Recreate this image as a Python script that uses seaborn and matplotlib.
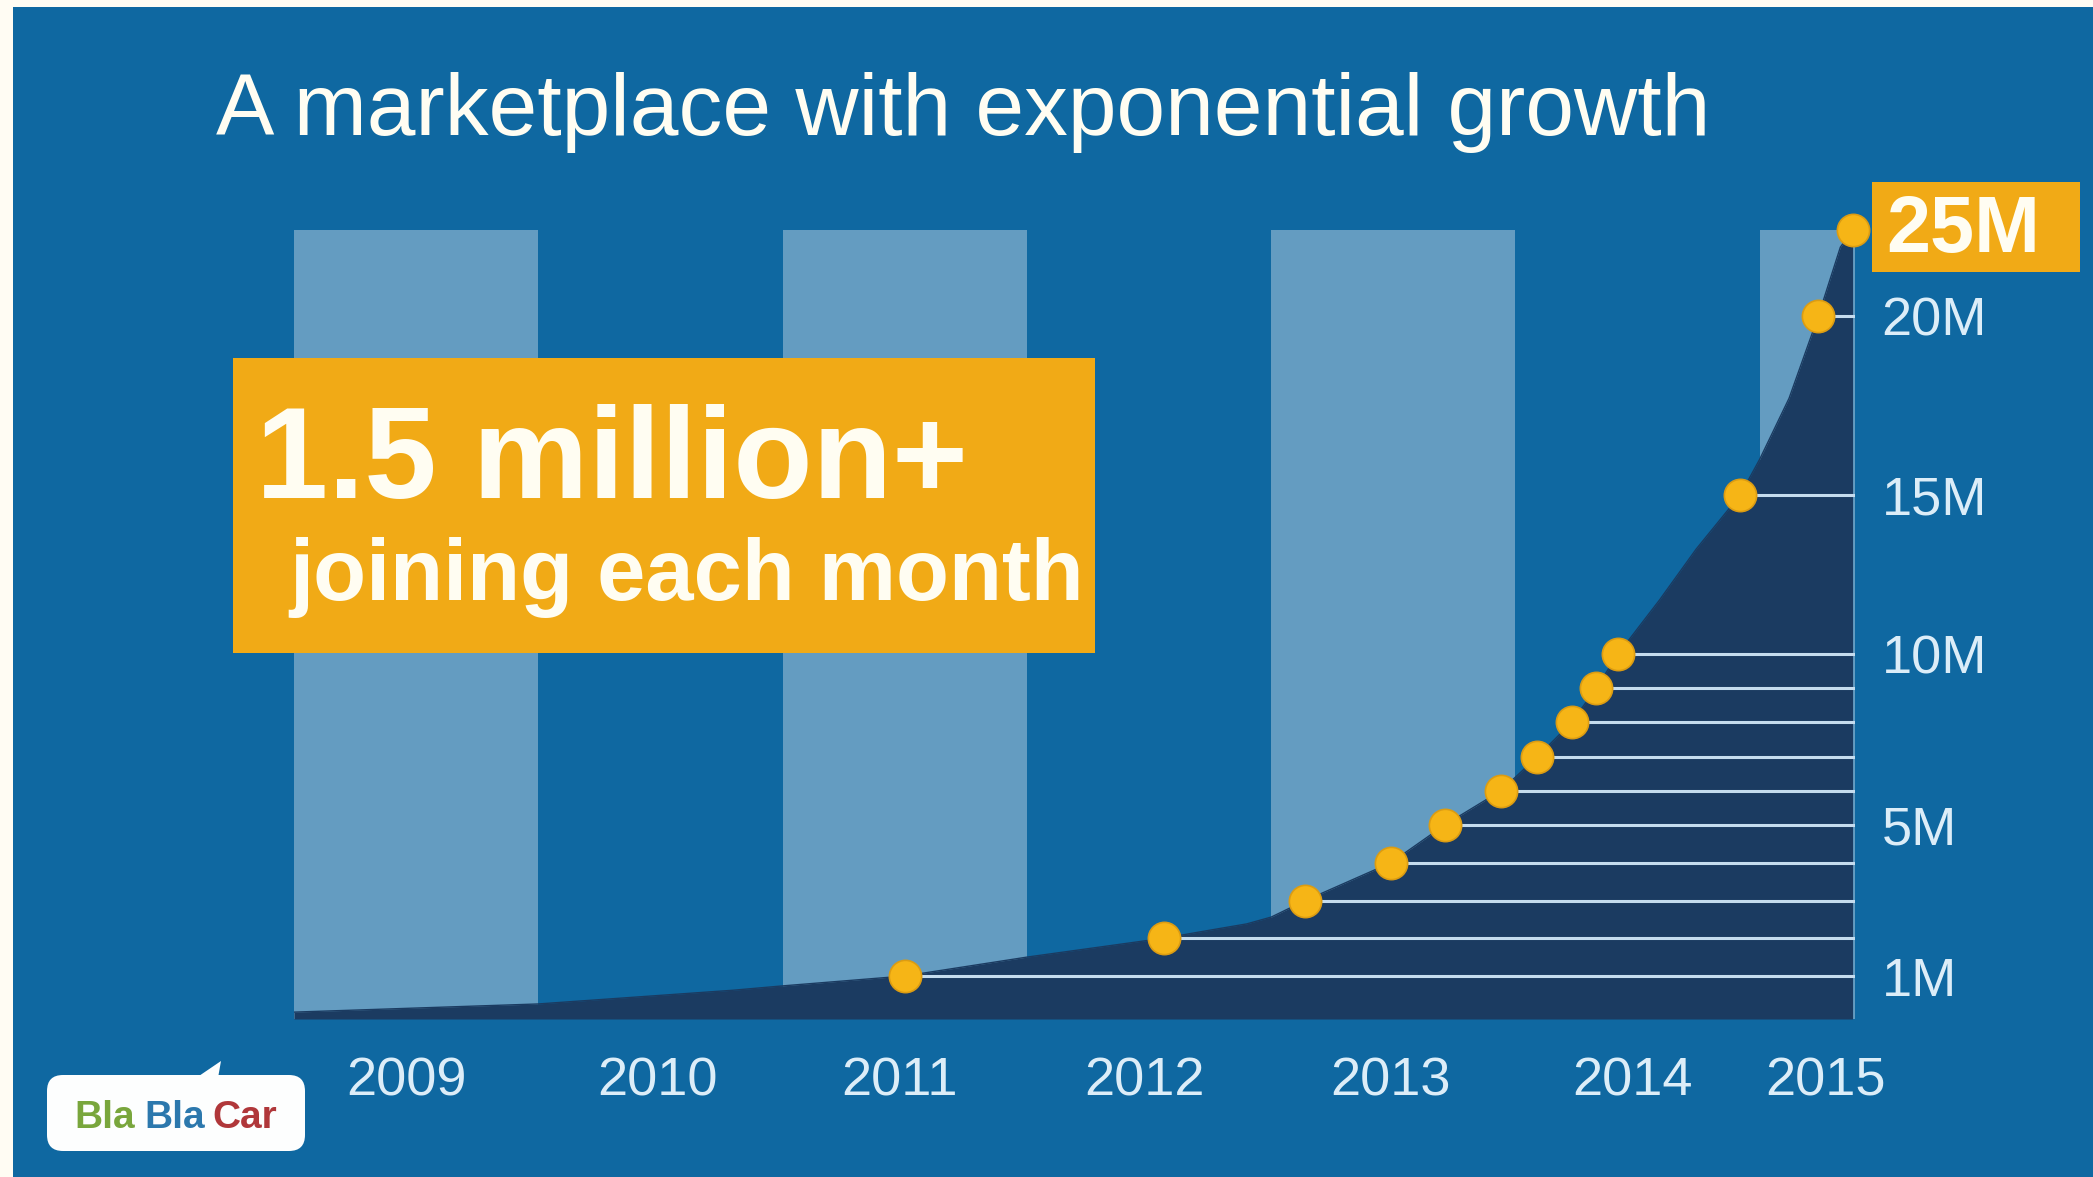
import numpy as np
import matplotlib
matplotlib.use("Agg")
import matplotlib.pyplot as plt
import seaborn as sns
from matplotlib.patches import Rectangle, FancyBboxPatch, Polygon

# ---------------- data ----------------
curve_years = [2009.0, 2010.0, 2010.8, 2011.0, 2011.5, 2012.0, 2012.56, 2012.71, 2012.9, 2013.0,
               2013.14, 2013.49, 2013.71, 2013.94, 2014.09, 2014.23, 2014.33, 2014.42,
               2014.59, 2014.74, 2014.92, 2015.0, 2015.12, 2015.24, 2015.33, 2015.38]
curve_users = [0.16, 0.35, 0.67, 0.77, 1.0, 1.5, 2.0, 2.17, 2.38, 2.56,
               3.0, 4.0, 5.0, 6.0, 7.0, 8.0, 9.0, 10.0,
               11.7, 13.3, 15.0, 16.0, 17.7, 20.0, 24.0, 25.0]

dot_years = [2011.50, 2012.56, 2013.14, 2013.49, 2013.71, 2013.94, 2014.09,
             2014.23, 2014.33, 2014.42, 2014.92, 2015.24, 2015.38]
dot_users = [1, 2, 3, 4, 5, 6, 7, 8, 9, 10, 15, 20, 25]

band_years = [2009, 2011, 2013, 2015]
year_labels = ["2009", "2010", "2011", "2012", "2013", "2014", "2015"]
year_tick_pos = [2009.46, 2010.49, 2011.48, 2012.48, 2013.49, 2014.48, 2015.27]
user_ticks = [1, 5, 10, 15, 20]
user_tick_labels = ["1M", "5M", "10M", "15M", "20M"]
top_label = "25M"
title = "A marketplace with exponential growth"
headline_1 = "1.5 million+"
headline_2 = "joining each month"

# ---------------- style ----------------
W, H = 2093, 1177
BG = "#0f68a1"
BAND = "#649cc1"
DARK = "#1b3b61"
ORANGE = "#f1aa16"
DOT = "#f6b516"
WHITE = "#fffdf2"
TICK = "#dcedf8"
LINE = "#c5dcee"
CREAM = "#fffcf3"
X_END = 2015.39

sns.set_style("white")
plt.rcParams["font.family"] = ["Liberation Sans", "DejaVu Sans"]


def fx(x):
    return x / W


def fy(y):
    return 1 - y / H


# piecewise-linear value axis (the designer's spacing)
SCALE_V = [-1000, 0, 1, 5, 10, 15, 20, 25, 1000]
SCALE_H = [-43000, 0, 43, 194, 365, 524, 703, 789, 789 + 975 * 17.2]


def fwd(v):
    return np.interp(np.asarray(v, dtype=float), SCALE_V, SCALE_H)


def inv(h):
    return np.interp(np.asarray(h, dtype=float), SCALE_H, SCALE_V)


fig = plt.figure(figsize=(W / 100, H / 100), dpi=100, facecolor=BG)
ax = fig.add_axes([fx(294), fy(1019), fx(1855) - fx(294), fy(230) - fy(1019)])
ax.set_facecolor(BG)
ax.set_yscale("function", functions=(fwd, inv))

# alternating year bands
for yr in band_years:
    ax.axvspan(yr, min(yr + 1, X_END), ymin=0, ymax=1, color=BAND, lw=0, zorder=1)

# area under the growth curve
ax.fill_between(curve_years, 0, curve_users, color=DARK, lw=0, zorder=2)
sns.lineplot(x=curve_years, y=curve_users, ax=ax, color=DARK, lw=1, zorder=2, sort=False)

# guide lines from each dot to the right edge
ax.hlines(dot_users[:-1], dot_years[:-1], X_END, colors=LINE, lw=2.2, zorder=3)

# dots
sns.scatterplot(x=dot_years, y=dot_users, ax=ax, s=540, color=DOT,
                edgecolor="#dc9c12", linewidth=1.2, zorder=5, clip_on=False)

ax.set_xlim(2009, X_END)
ax.set_ylim(0, 25)
for s in ax.spines.values():
    s.set_visible(False)

ax.set_xticks(year_tick_pos)
ax.set_xticklabels(year_labels)
ax.yaxis.tick_right()
ax.set_yticks(user_ticks)
ax.set_yticklabels(user_tick_labels)
ax.minorticks_off()
ax.tick_params(axis="x", length=0, pad=27, labelsize=39, colors=TICK)
ax.tick_params(axis="y", length=0, pad=19, labelsize=39, colors=TICK,
               labelright=True, labelleft=False)
ax.set_xlabel("")
ax.set_ylabel("")
ax.grid(False)

# 25M highlighted label
fig.add_artist(Rectangle((fx(1872), fy(272)), fx(2080) - fx(1872), fy(182) - fy(272),
                         transform=fig.transFigure, color=ORANGE, lw=0, zorder=3))
fig.text(fx(1886), fy(252), top_label, fontsize=57, fontweight="bold", color=WHITE,
         ha="left", va="baseline", zorder=4)

# title
fig.text(fx(216), fy(135), title, fontsize=63, color=WHITE, ha="left", va="baseline")

# headline box
fig.add_artist(Rectangle((fx(233), fy(653)), fx(1095) - fx(233), fy(358) - fy(653),
                         transform=fig.transFigure, color=ORANGE, lw=0, zorder=3))
fig.text(fx(256), fy(498), headline_1, fontsize=93.5, fontweight="bold", color=WHITE,
         ha="left", va="baseline", zorder=4)
fig.text(fx(289), fy(600), headline_2, fontsize=62.5, fontweight="bold", color=WHITE,
         ha="left", va="baseline", zorder=4)

# BlaBlaCar logo
fig.add_artist(FancyBboxPatch((47, H - 1151), 258, 76,
                              boxstyle="round,pad=0,rounding_size=16",
                              transform=None, facecolor="#fdfefe", edgecolor="none", zorder=3))
fig.add_artist(Polygon([(196, H - 1078), (218, H - 1078), (221, H - 1061)], closed=True,
                       transform=None, facecolor="#fdfefe", edgecolor="none", zorder=3))
for txt, x0, col in [("Bla", 74, "#79a63c"), ("Bla", 144, "#2c78ad"), ("Car", 212, "#b0373a")]:
    fig.text(fx(x0), fy(1128), txt, fontsize=28, fontweight="bold", color=col,
             ha="left", va="baseline", zorder=4)

# cream page edges
fig.add_artist(Rectangle((0, fy(7)), 1, 7 / H, transform=fig.transFigure,
                         color=CREAM, lw=0, zorder=10))
fig.add_artist(Rectangle((0, 0), 13 / W, 1, transform=fig.transFigure,
                         color=CREAM, lw=0, zorder=10))

fig.savefig("out.png", dpi=100, facecolor=BG)
